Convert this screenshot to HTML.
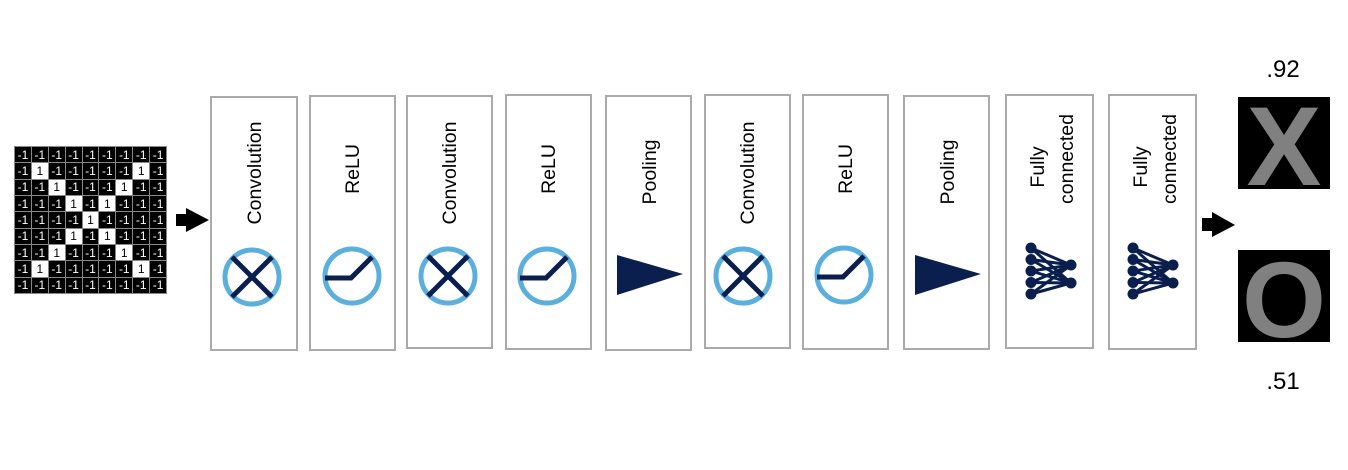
<!DOCTYPE html>
<html><head><meta charset="utf-8"><style>
html,body{margin:0;padding:0;background:#fff;}
body{width:1348px;height:470px;overflow:hidden;position:relative;font-family:"Liberation Sans",sans-serif;}
.grid{position:absolute;left:14px;top:146px;width:153px;height:148px;display:grid;grid-template-columns:repeat(9,1fr);grid-template-rows:repeat(9,1fr);background:#888;gap:1px;padding:1px;box-sizing:border-box;}
.grid div{background:#000;color:#fff;font-size:12px;display:flex;align-items:center;justify-content:center;line-height:1;}
.grid div.w{background:#fff;color:#000;}
</style></head><body>
<div class="grid">
<div>-1</div><div>-1</div><div>-1</div><div>-1</div><div>-1</div><div>-1</div><div>-1</div><div>-1</div><div>-1</div>
<div>-1</div><div class="w">1</div><div>-1</div><div>-1</div><div>-1</div><div>-1</div><div>-1</div><div class="w">1</div><div>-1</div>
<div>-1</div><div>-1</div><div class="w">1</div><div>-1</div><div>-1</div><div>-1</div><div class="w">1</div><div>-1</div><div>-1</div>
<div>-1</div><div>-1</div><div>-1</div><div class="w">1</div><div>-1</div><div class="w">1</div><div>-1</div><div>-1</div><div>-1</div>
<div>-1</div><div>-1</div><div>-1</div><div>-1</div><div class="w">1</div><div>-1</div><div>-1</div><div>-1</div><div>-1</div>
<div>-1</div><div>-1</div><div>-1</div><div class="w">1</div><div>-1</div><div class="w">1</div><div>-1</div><div>-1</div><div>-1</div>
<div>-1</div><div>-1</div><div class="w">1</div><div>-1</div><div>-1</div><div>-1</div><div class="w">1</div><div>-1</div><div>-1</div>
<div>-1</div><div class="w">1</div><div>-1</div><div>-1</div><div>-1</div><div>-1</div><div>-1</div><div class="w">1</div><div>-1</div>
<div>-1</div><div>-1</div><div>-1</div><div>-1</div><div>-1</div><div>-1</div><div>-1</div><div>-1</div><div>-1</div>
</div>
<svg width="1348" height="470" style="position:absolute;left:0;top:0" xmlns="http://www.w3.org/2000/svg" font-family="Liberation Sans, sans-serif">
<defs>
<g id="conv"><circle cx="0" cy="0" r="27" fill="none" stroke="#5aafdd" stroke-width="5"/><line x1="-20" y1="-20" x2="20" y2="20" stroke="#0b1f4e" stroke-width="5"/><line x1="20" y1="-20" x2="-20" y2="20" stroke="#0b1f4e" stroke-width="5"/></g>
<g id="relu"><circle cx="0" cy="0" r="27" fill="none" stroke="#5aafdd" stroke-width="5"/><polyline points="-27,2 -1,2 20,-19" fill="none" stroke="#0b1f4e" stroke-width="5"/></g>
<g id="pool"><polygon points="-24,-21 42,-2 -24,19" fill="#0b1f4e"/></g>
<g id="fc" stroke="#0b1f4e" stroke-width="3" fill="#0b1f4e">
<line x1="0" y1="0" x2="40" y2="17"/><line x1="0" y1="0" x2="40" y2="35"/>
<line x1="0" y1="11.5" x2="40" y2="17"/><line x1="0" y1="11.5" x2="40" y2="35"/>
<line x1="0" y1="23" x2="40" y2="17"/><line x1="0" y1="23" x2="40" y2="35"/>
<line x1="0" y1="34.5" x2="40" y2="17"/><line x1="0" y1="34.5" x2="40" y2="35"/>
<line x1="0" y1="46" x2="40" y2="17"/><line x1="0" y1="46" x2="40" y2="35"/>
<circle cx="0" cy="0" r="5.5" stroke="none"/><circle cx="0" cy="11.5" r="5.5" stroke="none"/><circle cx="0" cy="23" r="5.5" stroke="none"/><circle cx="0" cy="34.5" r="5.5" stroke="none"/><circle cx="0" cy="46" r="5.5" stroke="none"/>
<circle cx="40" cy="17" r="5.5" stroke="none"/><circle cx="40" cy="35" r="5.5" stroke="none"/>
</g>
</defs>
<g fill="#fff" stroke="#aaa" stroke-width="2">
<rect x="211" y="97" width="86" height="253"/>
<rect x="310" y="96" width="85" height="254"/>
<rect x="407" y="96" width="85" height="252"/>
<rect x="506" y="95" width="85" height="254"/>
<rect x="606" y="96" width="85" height="254"/>
<rect x="705" y="95" width="85" height="253"/>
<rect x="803" y="95" width="85" height="254"/>
<rect x="904" y="96" width="85" height="253"/>
<rect x="1006" y="95" width="87" height="253"/>
<rect x="1109" y="95" width="87" height="254"/>
</g>
<g font-size="19.5" fill="#000" text-anchor="middle">
<text transform="translate(261,173) rotate(-90)">Convolution</text>
<text transform="translate(359,169) rotate(-90)">ReLU</text>
<text transform="translate(456,173) rotate(-90)">Convolution</text>
<text transform="translate(555,169) rotate(-90)">ReLU</text>
<text transform="translate(656,172) rotate(-90)">Pooling</text>
<text transform="translate(754,173) rotate(-90)">Convolution</text>
<text transform="translate(852,169) rotate(-90)">ReLU</text>
<text transform="translate(954,172) rotate(-90)">Pooling</text>
<text transform="translate(1044,167) rotate(-90)">Fully</text>
<text transform="translate(1073,159) rotate(-90)">connected</text>
<text transform="translate(1147,167) rotate(-90)">Fully</text>
<text transform="translate(1176,159) rotate(-90)">connected</text>
</g>
<use href="#conv" x="252" y="277"/>
<use href="#relu" x="352" y="276"/>
<use href="#conv" x="448" y="276"/>
<use href="#relu" x="547" y="276"/>
<use href="#pool" x="641" y="276"/>
<use href="#conv" x="743" y="276"/>
<use href="#relu" x="844" y="275"/>
<use href="#pool" x="939" y="276"/>
<use href="#fc" x="1031" y="248"/>
<use href="#fc" x="1133" y="248"/>
<polygon points="176,214 186,214 186,208 209,220 186,232 186,226 176,226" fill="#000"/>
<polygon points="1202,218 1212,218 1212,212 1235,225 1212,237 1212,231 1202,231" fill="#000"/>
<rect x="1238" y="97" width="92" height="92" fill="#000"/>
<rect x="1238" y="250" width="92" height="92" fill="#000"/>
<text x="1284" y="185" font-size="112" font-weight="bold" fill="#808080" text-anchor="middle">X</text>
<text x="1284" y="337" font-size="108" font-weight="bold" fill="#808080" text-anchor="middle">O</text>
<text x="1283" y="77" font-size="24" text-anchor="middle">.92</text>
<text x="1283" y="389" font-size="24" text-anchor="middle">.51</text>
</svg>
</body></html>
